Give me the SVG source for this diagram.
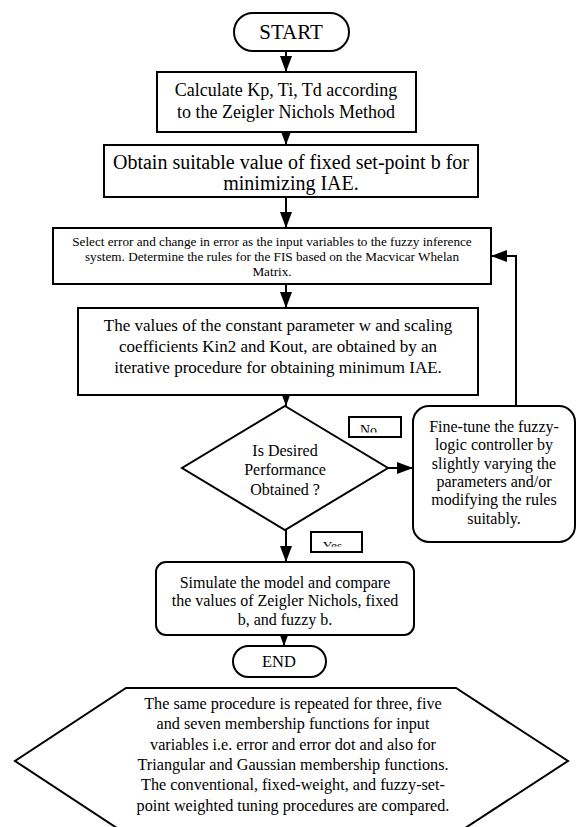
<svg xmlns="http://www.w3.org/2000/svg" width="576" height="827" viewBox="0 0 576 827">
<style>
.s{fill:#fff;stroke:#000;stroke-width:2}
.t{fill:#000;text-anchor:middle}
.c{fill:none;stroke:#000;stroke-width:2}
</style>
<defs>
<marker id="ah" viewBox="0 0 16 12" refX="16" refY="6" markerWidth="16" markerHeight="12" markerUnits="userSpaceOnUse" orient="auto"><path d="M0,0 L16,6 L0,12 z" fill="#000"/></marker>
<clipPath id="cpNo"><rect x="349" y="417" width="52" height="15.5"/></clipPath>
<clipPath id="cpYes"><rect x="311" y="532" width="51" height="14.5"/></clipPath>
</defs>
<rect width="576" height="827" fill="#fff"/>
<g id="connectors">
<path class="c" d="M286,51 V72" marker-end="url(#ah)"/>
<path class="c" d="M286,132 V145" marker-end="url(#ah)"/>
<path class="c" d="M286,197 V228" marker-end="url(#ah)"/>
<path class="c" d="M286,284 V308" marker-end="url(#ah)"/>
<path class="c" d="M286,395 V406" marker-end="url(#ah)"/>
<path class="c" d="M388,468 H413" marker-end="url(#ah)"/>
<path class="c" d="M516,406 V256 H491" marker-end="url(#ah)"/>
<path class="c" d="M286,530 V562" marker-end="url(#ah)"/>
<path class="c" d="M284,635 V646" marker-end="url(#ah)"/>
</g>
<g font-family="Liberation Serif, Times New Roman, DejaVu Serif, serif">
<g id="start">
<rect class="s" x="234" y="13" width="115" height="38" rx="19"/>
<text class="t" x="291" y="39" font-size="21">START</text>
</g>
<g id="calc">
<rect class="s" x="157" y="72" width="259" height="60"/>
<text class="t" x="286" y="96" font-size="18">Calculate Kp, Ti, Td according</text>
<text class="t" x="286" y="118" font-size="18">to the Zeigler Nichols Method</text>
</g>
<g id="obtain">
<rect class="s" x="104" y="145" width="374" height="52"/>
<text class="t" x="291" y="169" font-size="20">Obtain suitable value of fixed set-point b for</text>
<text class="t" x="291" y="190" font-size="20">minimizing IAE.</text>
</g>
<g id="select">
<rect class="s" x="53" y="228" width="438" height="56"/>
<text class="t" x="272" y="246" font-size="13.2">Select error and change in error as the input variables to the fuzzy inference</text>
<text class="t" x="272" y="261" font-size="13.2">system. Determine the rules for the FIS based on the Macvicar Whelan</text>
<text class="t" x="272" y="276" font-size="13.2">Matrix.</text>
</g>
<g id="values">
<rect class="s" x="78" y="308" width="400" height="87"/>
<text class="t" x="278" y="331" font-size="17">The values of the constant parameter w and scaling</text>
<text class="t" x="278" y="352" font-size="17">coefficients Kin2 and Kout, are obtained by an</text>
<text class="t" x="278" y="373" font-size="17">iterative procedure for obtaining minimum IAE.</text>
</g>
<g id="decision">
<polygon class="s" points="285,406 388,468 285,530 182,468"/>
<text class="t" x="285" y="456" font-size="16">Is Desired</text>
<text class="t" x="285" y="475" font-size="16">Performance</text>
<text class="t" x="285" y="495" font-size="16">Obtained ?</text>
</g>
<g id="label-no">
<rect class="s" x="349" y="417" width="52" height="20" stroke-width="1.5"/>
<text class="t" x="368.5" y="435" font-size="14" clip-path="url(#cpNo)">No</text>
</g>
<g id="label-yes">
<rect class="s" x="311" y="532" width="51" height="20" stroke-width="1.5"/>
<text class="t" x="332.5" y="549.5" font-size="13.5" clip-path="url(#cpYes)">Yes</text>
</g>
<g id="finetune">
<rect class="s" x="413" y="406" width="162" height="136" rx="16"/>
<text class="t" x="494" y="432" font-size="16">Fine-tune the fuzzy-</text>
<text class="t" x="494" y="450" font-size="16">logic controller by</text>
<text class="t" x="494" y="469" font-size="16">slightly varying the</text>
<text class="t" x="494" y="487" font-size="16">parameters and/or</text>
<text class="t" x="494" y="505" font-size="16">modifying the rules</text>
<text class="t" x="494" y="524" font-size="16">suitably.</text>
</g>
<g id="simulate">
<rect class="s" x="156" y="562" width="258" height="73" rx="10"/>
<text class="t" x="285" y="588" font-size="16">Simulate the model and compare</text>
<text class="t" x="285" y="606" font-size="16">the values of Zeigler Nichols, fixed</text>
<text class="t" x="285" y="625" font-size="16">b, and fuzzy b.</text>
</g>
<g id="end">
<rect class="s" x="233" y="646" width="93" height="31" rx="15.5"/>
<text class="t" x="279" y="667" font-size="16.5">END</text>
</g>
<g id="note">
<polygon class="s" points="126,688 456,688 568,761 456,834 126,834 15,761"/>
<text class="t" x="293" y="709" font-size="16.2">The same procedure is repeated for three, five</text>
<text class="t" x="293" y="729" font-size="16.2">and seven membership functions for input</text>
<text class="t" x="293" y="750" font-size="16.2">variables i.e. error and error dot and also for</text>
<text class="t" x="293" y="770" font-size="16.2">Triangular and Gaussian membership functions.</text>
<text class="t" x="293" y="790" font-size="16.2">The conventional, fixed-weight, and fuzzy-set-</text>
<text class="t" x="293" y="811" font-size="16.2">point weighted tuning procedures are compared.</text>
</g>
</g>
</svg>
